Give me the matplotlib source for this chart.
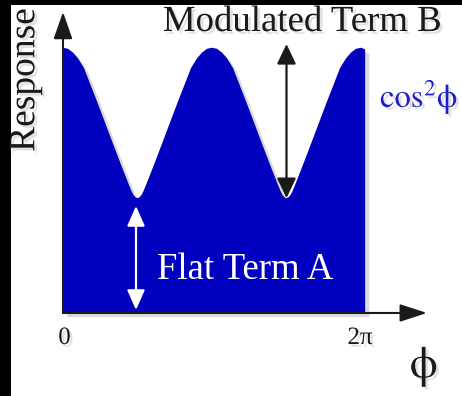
import numpy as np
import matplotlib
matplotlib.use("Agg")
import matplotlib.pyplot as plt
from matplotlib.patches import FancyArrowPatch, Rectangle
import matplotlib.patheffects as pe

# ---- data (phi in radians, response normalised to peak = 1) ----
phi = [0.000, 0.106, 0.211, 0.317, 0.444, 0.581, 0.719, 0.846, 0.983, 1.121, 1.254, 1.338, 1.402, 1.444,
       1.486, 1.529, 1.571,
       1.613, 1.656, 1.698, 1.740, 1.804, 1.888, 2.021, 2.159, 2.296, 2.423, 2.561, 2.698, 2.825, 2.931,
       3.036, 3.142,
       3.248, 3.353, 3.459, 3.586, 3.723, 3.861, 3.988, 4.125, 4.263, 4.396, 4.480, 4.544, 4.586, 4.628,
       4.671, 4.712,
       4.755, 4.798, 4.840, 4.882, 4.946, 5.030, 5.163, 5.301, 5.438, 5.565, 5.703, 5.840, 5.967, 6.073,
       6.178, 6.283, 6.370]
response = [1.000, 0.996, 0.982, 0.960, 0.923, 0.860, 0.797, 0.737, 0.672, 0.607, 0.545, 0.507, 0.478, 0.460,
            0.445, 0.436, 0.433,
            0.436, 0.445, 0.460, 0.478, 0.507, 0.545, 0.607, 0.672, 0.737, 0.797, 0.860, 0.923, 0.960, 0.982,
            0.996, 1.000,
            0.996, 0.982, 0.960, 0.923, 0.860, 0.797, 0.737, 0.672, 0.607, 0.545, 0.507, 0.478, 0.460, 0.445,
            0.436, 0.433,
            0.436, 0.445, 0.460, 0.478, 0.507, 0.545, 0.607, 0.672, 0.737, 0.797, 0.860, 0.923, 0.960, 0.982,
            0.996, 1.000, 0.994]
flat_term = 0.433          # minimum of the curve (term A)
tick_values = [0.0, 2 * np.pi]
tick_labels = ["0", "2π"]

SERIF = 'Liberation Serif'
plt.rcParams['mathtext.fontset'] = 'stix'

W, H = 462, 396
fig = plt.figure(figsize=(W / 100, H / 100), dpi=100)
fig.patch.set_facecolor('black')
fig.patches.append(Rectangle((11 / W, 0), (W - 11) / W, (H - 5) / H, transform=fig.transFigure,
                             facecolor='white', edgecolor='none', zorder=-5))

ax = fig.add_axes([0, 0, 1, 1])
ax.patch.set_alpha(0)
ax.set_axis_off()
ax.set_xlim(-1.328, 8.412)
ax.set_ylim(-0.313, 1.180)

def px(x):   # pixel column -> data x
    return -1.328 + x / W * (8.412 + 1.328)

def py(y):   # pixel row (from top) -> data y
    return 1.180 - y / H * (1.180 + 0.313)

shadow_txt = [pe.withSimplePatchShadow(offset=(2, -2), shadow_rgbFace='#888888', alpha=0.25)]

# filled response
ax.fill_between(phi, 0, response, facecolor='#0000BE', edgecolor='none', zorder=2,
                path_effects=[pe.withSimplePatchShadow(offset=(3, -3), shadow_rgbFace='#999999', alpha=0.35)])

# axes arrows
axis_col = '#1a1a1a'
ax.add_patch(FancyArrowPatch((0, 0), (0, py(12)), arrowstyle='-|>,head_length=0.83,head_width=0.29',
                             mutation_scale=20, color=axis_col, lw=1.5, shrinkA=0, shrinkB=0, zorder=3))
ax.add_patch(FancyArrowPatch((0, 0), (px(427), 0), arrowstyle='-|>,head_length=0.83,head_width=0.27',
                             mutation_scale=20, color=axis_col, lw=1.5, shrinkA=0, shrinkB=0, zorder=3))

# modulated term B arrow (black) at second minimum
ax.add_patch(FancyArrowPatch((phi[48], flat_term), (phi[48], py(44)),
                             arrowstyle='<|-|>,head_length=0.61,head_width=0.29',
                             mutation_scale=20, color=axis_col, lw=1.6, shrinkA=0, shrinkB=0, zorder=4))
# flat term A arrow (white) below first minimum
ax.add_patch(FancyArrowPatch((px(136), py(310)), (px(136), py(206)),
                             arrowstyle='<|-|>,head_length=0.61,head_width=0.27',
                             mutation_scale=20, color='white', lw=1.6, shrinkA=0, shrinkB=0, zorder=4))

# texts
ax.text(px(302), py(31), "Modulated Term B", family=SERIF, fontsize=26.5, color='#1a1a1a',
        ha='center', va='baseline', path_effects=shadow_txt, zorder=5)
ax.text(px(25), py(80), "Response", family=SERIF, fontsize=27, color='#1a1a1a', rotation=90,
        ha='center', va='center', path_effects=shadow_txt, zorder=5)
ax.text(px(380), py(107), r'$\mathrm{cos}^{2}\mathrm{\phi}$', fontsize=23.5, color='#1E1EC8',
        ha='left', va='baseline', path_effects=shadow_txt, zorder=5)
ax.text(px(157), py(279), "Flat Term A", family=SERIF, fontsize=26.5, color='white',
        ha='left', va='baseline', zorder=5)
tick_px = [64.5, 360]
for v, lab, tx in zip(tick_values, tick_labels, tick_px):
    ax.text(px(tx), py(344), lab, family=SERIF, fontsize=18,
            color='#1a1a1a', ha='center', va='baseline', path_effects=shadow_txt, zorder=5)
ax.text(px(424), py(367), r'$\mathrm{\phi}$', fontsize=32, color='#1a1a1a', ha='center', va='center',
        path_effects=shadow_txt, zorder=5)

fig.savefig('out.png', dpi=100, facecolor=fig.get_facecolor())
